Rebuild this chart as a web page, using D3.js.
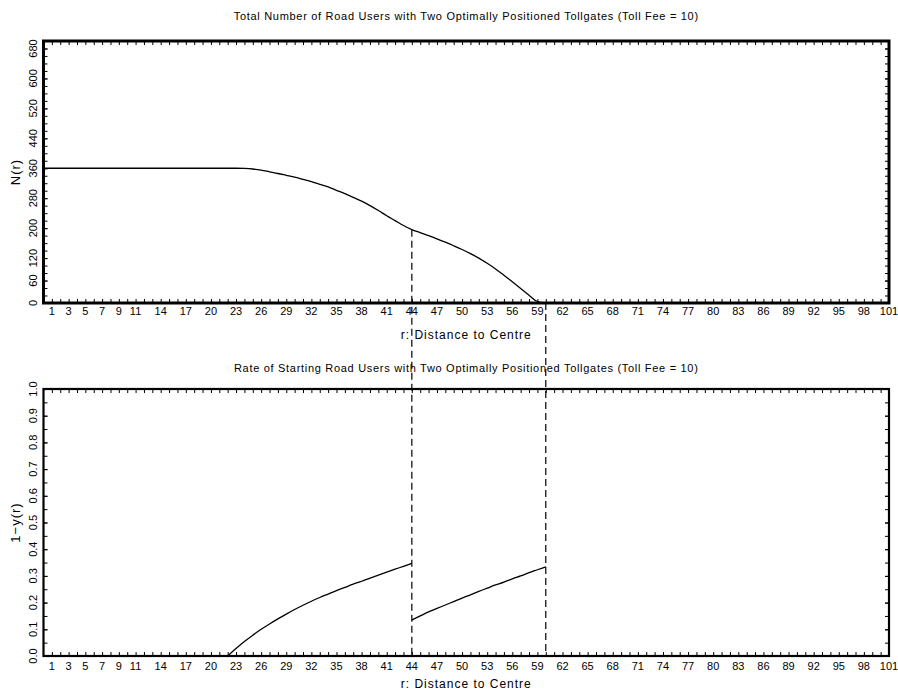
<!DOCTYPE html>
<html>
<head>
<meta charset="utf-8">
<script src="https://cdn.jsdelivr.net/npm/d3@7/dist/d3.min.js"></script>
<style>
  body { margin: 0; background: #fff; }
  text { font-family: "Liberation Sans", Arial, sans-serif; fill: #000; }
</style>
</head>
<body>
<svg id="chart" width="898" height="690"></svg>
<script>
// ---- data ----
var xTickLabels = [1, 3, 5, 7, 9, 11, 14, 17, 20, 23, 26, 29, 32, 35, 38, 41, 44, 47, 50,
	53, 56, 59, 62, 65, 68, 71, 74, 77, 80, 83, 86, 89, 92, 95, 98, 101];
var nTickLabels = [0, 60, 120, 200, 280, 360, 440, 520, 600, 680];
var rateTickLabels = [0, 0.1, 0.2, 0.3, 0.4, 0.5, 0.6, 0.7, 0.8, 0.9, 1.0];
var tollgates = [44, 60];

// total number of road users N(r)
var usersR = [0, 22, 23, 24, 25, 26, 27, 28, 29, 30, 31, 32, 33, 34, 35, 36, 37, 38, 39, 40,
	41, 42, 43, 44, 45, 46, 47, 48, 49, 50, 51, 52, 53, 54, 55, 56, 57, 58, 59, 60, 101];
var usersN = [360, 360, 360, 359.5, 358, 355, 350.5, 346, 341, 336, 330, 324, 317, 310, 301,
	292, 282, 272, 260, 247, 233, 220, 207, 196, 188, 180, 171.5, 162.5, 153, 143, 132,
	120, 106, 91, 74, 56.5, 39, 21, 4, 0, 0];

// rate of starting road users 1 - y(r), one array per piece
var rateR0 = [0, 22];
var rate0 = [0, 0];
var rateR1 = [22, 23, 24, 25, 26, 27, 28, 29, 30, 31, 32, 33, 34, 35, 36, 37, 38, 39, 40,
	41, 42, 43, 44];
var rate1 = [0, 0.028, 0.054, 0.078, 0.1, 0.12, 0.139, 0.157, 0.174, 0.19, 0.205, 0.219,
	0.232, 0.245, 0.257, 0.269, 0.28, 0.292, 0.303, 0.314, 0.325, 0.336, 0.347];
var rateR2 = [44, 45, 46, 47, 48, 49, 50, 51, 52, 53, 54, 55, 56, 57, 58, 59, 60];
var rate2 = [0.135, 0.15, 0.165, 0.178, 0.191, 0.204, 0.217, 0.229, 0.242, 0.254, 0.266,
	0.277, 0.289, 0.3, 0.312, 0.323, 0.334];
var rateR3 = [60, 101];
var rate3 = [0, 0];

var svg = d3.select("#chart");

var x = d3.scaleLinear().domain([0, 101]).range([43.5, 889]);
var minorX = d3.range(1, 101);

var panels = [
	{
		title: "Total Number of Road Users with Two Optimally Positioned Tollgates (Toll Fee = 10)",
		yLabel: "N(r)",
		y: d3.scaleLinear().domain([0, 700]).range([303, 41]),
		ticks: nTickLabels,
		minor: d3.range(20, 700, 20),
		fmt: d3.format("d"),
		frame: 3,
		titleY: 20,
		labelY: 315,
		xTitleY: 339,
		series: [[usersR, usersN]]
	},
	{
		title: "Rate of Starting Road Users with Two Optimally Positioned Tollgates (Toll Fee = 10)",
		yLabel: "1\u2212y(r)",
		y: d3.scaleLinear().domain([0, 1]).range([656, 389]),
		ticks: rateTickLabels,
		minor: d3.range(0.05, 1, 0.05),
		fmt: d3.format(".1f"),
		frame: 2.2,
		titleY: 372,
		labelY: 670,
		xTitleY: 688,
		series: [[rateR0, rate0], [rateR1, rate1], [rateR2, rate2], [rateR3, rate3]]
	}
];

panels.forEach(function(p) {
	var g = svg.append("g");
	var y = p.y;
	var x0 = x.range()[0], x1 = x.range()[1];
	var yB = y.range()[0], yT = y.range()[1];

	// minor + labelled ticks on all four sides, pointing inward
	[[d3.axisBottom, yB], [d3.axisTop, yT]].forEach(function(a) {
		var ax = g.append("g").attr("transform", "translate(0," + a[1] + ")")
			.call(a[0](x).tickValues(minorX).tickSize(-4).tickFormat(""));
		ax.select(".domain").remove();
		ax.selectAll("line").attr("stroke", "#000").attr("stroke-width", 1);
	});
	[[d3.axisLeft, x0], [d3.axisRight, x1]].forEach(function(a) {
		var ax = g.append("g").attr("transform", "translate(" + a[1] + ",0)")
			.call(a[0](y).tickValues(p.minor.concat(p.ticks)).tickSize(-4).tickFormat(""));
		ax.select(".domain").remove();
		ax.selectAll("line").attr("stroke", "#000").attr("stroke-width", 1);
	});

	// x tick labels
	g.append("g").selectAll("text")
		.data(xTickLabels).enter().append("text")
		.attr("x", d => x(d))
		.attr("y", p.labelY)
		.attr("text-anchor", "middle")
		.style("font-size", "11px")
		.text(d => d);

	// y tick labels, rotated
	g.append("g").selectAll("text")
		.data(p.ticks).enter().append("text")
		.attr("transform", d => "translate(37," + y(d) + ") rotate(-90)")
		.attr("text-anchor", "middle")
		.style("font-size", "11px")
		.text(d => p.fmt(d));

	// curves
	var line = d3.line().curve(d3.curveMonotoneX).x(d => x(d[0])).y(d => y(d[1]));
	p.series.forEach(function(s) {
		g.append("path")
			.datum(d3.zip(s[0], s[1]))
			.attr("fill", "none")
			.attr("stroke", "#000")
			.attr("stroke-width", 1.3)
			.attr("d", line);
	});

	// frame
	g.append("rect")
		.attr("x", x0).attr("y", yT)
		.attr("width", x1 - x0).attr("height", yB - yT)
		.attr("fill", "none").attr("stroke", "#000")
		.attr("stroke-width", p.frame);

	// titles
	g.append("text")
		.attr("x", (x0 + x1) / 2).attr("y", p.titleY)
		.attr("text-anchor", "middle")
		.style("font-size", "11px")
		.style("letter-spacing", "0.7px")
		.text(p.title);
	g.append("text")
		.attr("x", (x0 + x1) / 2).attr("y", p.xTitleY)
		.attr("text-anchor", "middle")
		.style("font-size", "12px")
		.style("letter-spacing", "1px")
		.text("r: Distance to Centre");
	g.append("text")
		.attr("transform", "translate(20," + (yB + yT) / 2 + ") rotate(-90)")
		.attr("text-anchor", "middle")
		.style("font-size", "13px")
		.style("letter-spacing", "1px")
		.text(p.yLabel);
});

// dashed lines at the two tollgates, from the top curve down to the lower axis
var yTop = panels[0].y, yBot = panels[1].y;
svg.append("g").selectAll("line")
	.data(tollgates).enter().append("line")
	.attr("x1", d => x(d)).attr("x2", d => x(d))
	.attr("y1", d => yTop(usersN[usersR.indexOf(d)]))
	.attr("y2", yBot(0))
	.attr("stroke", "#000")
	.attr("stroke-width", 1.2)
	.attr("stroke-dasharray", "7,4");
</script>
</body>
</html>
